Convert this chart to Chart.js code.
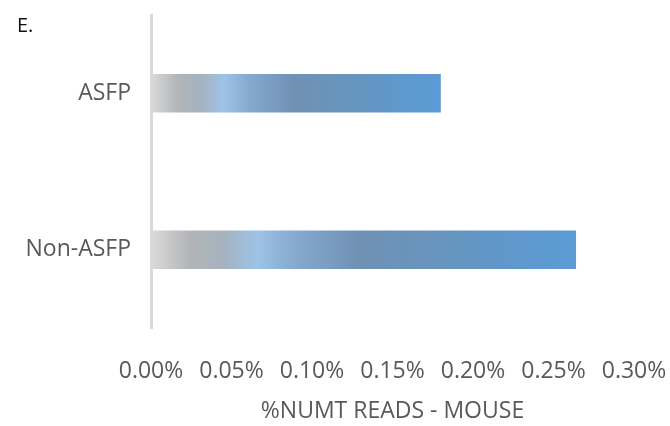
<!DOCTYPE html>
<html>
<head>
<meta charset="utf-8">
<script src="https://cdn.jsdelivr.net/npm/chart.js@4/dist/chart.umd.min.js"></script>
<style>
  html, body { margin: 0; padding: 0; background: #ffffff; overflow: hidden; }
  #wrap { position: relative; width: 670px; height: 426px; }
  #chart { display: block; }
  #panel { position: absolute; left: 17px; top: 11px; font: 20px "Open Sans", sans-serif; color: #111; }
</style>
</head>
<body>
<div id="wrap">
  <canvas id="chart" width="670" height="426"></canvas>
  <div id="panel">E.</div>
</div>
<script>
// Categories and values (% of reads that are NUMTs)
const categories = ['ASFP', 'Non-ASFP'];
const numtPercent = [0.18, 0.264];
const xTicks = [0, 0.05, 0.10, 0.15, 0.20, 0.25, 0.30];

// Horizontal gradient stops along each bar (0 = base, 1 = bar end)
const gradientStops = [
  [0.00, '#dadada'],
  [0.09, '#b3b5b8'],
  [0.17, '#a5b2bf'],
  [0.25, '#9dc3e6'],
  [0.34, '#85a9cf'],
  [0.49, '#6f91b4'],
  [0.65, '#6994bc'],
  [0.85, '#5f98cc'],
  [1.00, '#5b9bd5']
];

function barGradient(ctx) {
  const chart = ctx.chart;
  const xs = chart.scales && chart.scales.x;
  if (!chart.chartArea || !xs || ctx.type !== 'data') return '#5b9bd5';
  const x0 = xs.getPixelForValue(0);
  const x1 = xs.getPixelForValue(ctx.raw);
  const g = chart.ctx.createLinearGradient(x0, 0, x1, 0);
  gradientStops.forEach(([p, c]) => g.addColorStop(p, c));
  return g;
}

// Fixed axis sizes, no label-overflow padding
function fixBox(size) {
  return (axis) => {
    if (axis.isHorizontal()) axis.height = size; else axis.width = size;
    axis.paddingLeft = axis.paddingRight = axis.paddingTop = axis.paddingBottom = 0;
  };
}

const font = { family: '"Open Sans", sans-serif', size: 23 };

new Chart(document.getElementById('chart'), {
  type: 'bar',
  data: {
    labels: categories,
    datasets: [{
      data: numtPercent,
      backgroundColor: barGradient,
      borderWidth: 0,
      barPercentage: 0.5,
      categoryPercentage: 0.49
    }]
  },
  options: {
    indexAxis: 'y',
    responsive: false,
    animation: false,
    layout: { padding: { top: 15, right: 36, bottom: 0, left: 0 } },
    plugins: { legend: { display: false }, tooltip: { enabled: false } },
    scales: {
      x: {
        min: 0,
        max: 0.30,
        afterBuildTicks: (axis) => { axis.ticks = xTicks.map(v => ({ value: v })); },
        afterFit: fixBox(98),
        grid: { display: false, drawTicks: false },
        border: { display: false },
        ticks: {
          color: '#595959',
          font: font,
          padding: 30,
          maxRotation: 0,
          autoSkip: false,
          callback: (v) => Number(v).toFixed(2) + '%'
        },
        title: {
          display: true,
          text: '%NUMT READS - MOUSE',
          color: '#595959',
          font: font,
          padding: { top: 0, bottom: 1 }
        }
      },
      y: {
        afterFit: fixBox(151),
        grid: { display: false, drawTicks: false },
        border: { display: true, color: '#d9d9d9', width: 3 },
        ticks: { color: '#595959', font: font, padding: 20 }
      }
    }
  }
});
</script>
</body>
</html>
